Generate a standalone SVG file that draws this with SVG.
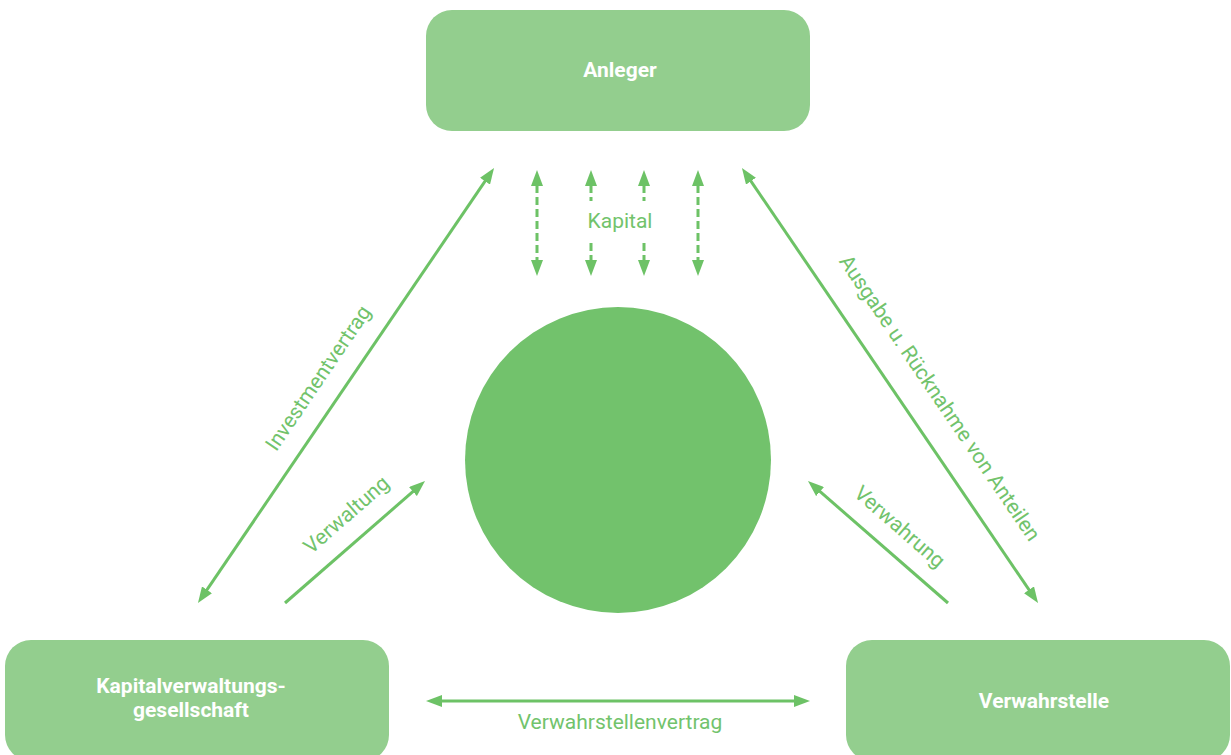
<svg xmlns="http://www.w3.org/2000/svg" width="1231" height="755" viewBox="0 0 1231 755">
  <style>
    .box { fill: #93CE8E; }
    .boxlabel { font-family: Roboto, "Liberation Sans", sans-serif; font-weight: bold; font-size: 21px; fill: #FFFFFF; text-anchor: middle; }
    .edge { fill: none; stroke: #6DC266; stroke-width: 3; }
    .dash { stroke-dasharray: 8 4; }
    .elabel { font-family: Roboto, "Liberation Sans", sans-serif; font-size: 21px; fill: #72C36C; text-anchor: middle; }
  </style>
  <defs>
    <marker id="arrow" viewBox="0 0 16 12" refX="1" refY="6" markerWidth="16" markerHeight="12" markerUnits="userSpaceOnUse" orient="auto-start-reverse">
      <path d="M0,0 L16,6 L0,12 z" fill="#6DC266"/>
    </marker>
  </defs>
  <rect width="1231" height="755" fill="#FFFFFF"/>

  <g id="anleger">
    <rect class="box" x="426" y="10" width="384" height="121" rx="26" ry="26"/>
    <text class="boxlabel" x="620" y="77">Anleger</text>
  </g>
  <g id="kvg">
    <rect class="box" x="5" y="640" width="384" height="121" rx="26" ry="26"/>
    <text class="boxlabel" x="191" y="693">Kapitalverwaltungs-</text>
    <text class="boxlabel" x="191" y="717">gesellschaft</text>
  </g>
  <g id="verwahrstelle">
    <rect class="box" x="846" y="640" width="384" height="121" rx="26" ry="26"/>
    <text class="boxlabel" x="1044" y="708">Verwahrstelle</text>
  </g>
  <g id="fonds">
    <circle cx="618" cy="460" r="153" fill="#72C26C"/>
  </g>

  <g id="connectors">
    <path class="edge" d="M206.4,590.6 L485.6,180.4" marker-start="url(#arrow)" marker-end="url(#arrow)"/>
    <path class="edge" d="M285,603 L413.7,490.9" marker-end="url(#arrow)"/>
    <path class="edge" d="M750.4,180.4 L1029.6,590.6" marker-start="url(#arrow)" marker-end="url(#arrow)"/>
    <path class="edge" d="M948,603 L819.3,490.9" marker-end="url(#arrow)"/>
    <path class="edge" d="M441,701 L795,701" marker-start="url(#arrow)" marker-end="url(#arrow)"/>
    <path class="edge dash" d="M537,185 L537,261" marker-start="url(#arrow)" marker-end="url(#arrow)"/>
    <path class="edge dash" d="M591,185 L591,201 M591,243 L591,261" marker-start="url(#arrow)" marker-end="url(#arrow)"/>
    <path class="edge dash" d="M644,185 L644,201 M644,243 L644,261" marker-start="url(#arrow)" marker-end="url(#arrow)"/>
    <path class="edge dash" d="M698,185 L698,261" marker-start="url(#arrow)" marker-end="url(#arrow)"/>

    <text class="elabel" x="620" y="228">Kapital</text>
    <text class="elabel" transform="translate(324,382) rotate(-55.8)">Investmentvertrag</text>
    <text class="elabel" transform="translate(351,520) rotate(-41.1)">Verwaltung</text>
    <text class="elabel" transform="translate(934,402) rotate(55.8)">Ausgabe u. Rücknahme von Anteilen</text>
    <text class="elabel" transform="translate(895,532) rotate(41.1)">Verwahrung</text>
    <text class="elabel" x="620" y="729">Verwahrstellenvertrag</text>
  </g>
</svg>
